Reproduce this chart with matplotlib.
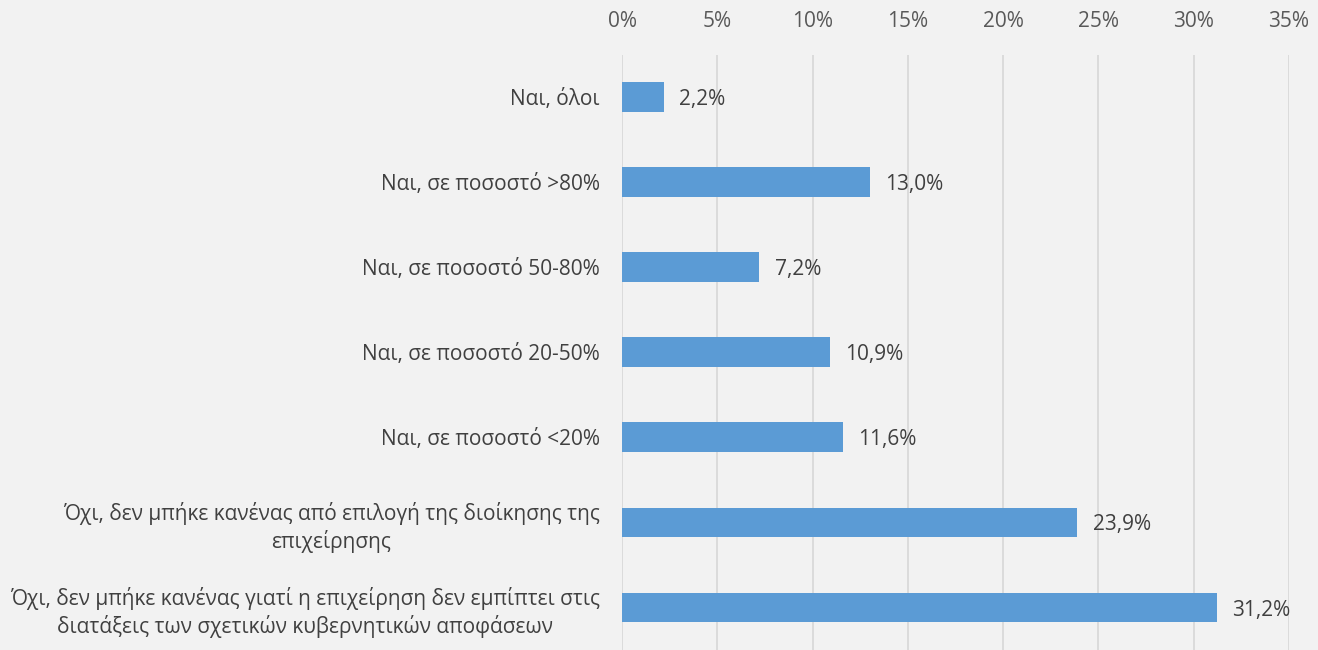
import matplotlib.pyplot as plt
from matplotlib.ticker import FuncFormatter

categories = [
    'Ναι, όλοι',
    'Ναι, σε ποσοστό >80%',
    'Ναι, σε ποσοστό 50-80%',
    'Ναι, σε ποσοστό 20-50%',
    'Ναι, σε ποσοστό <20%',
    'Όχι, δεν μπήκε κανένας από επιλογή της διοίκησης της\nεπιχείρησης',
    'Όχι, δεν μπήκε κανένας γιατί η επιχείρηση δεν εμπίπτει στις\nδιατάξεις των σχετικών κυβερνητικών αποφάσεων',
]
values = [2.2, 13.0, 7.2, 10.9, 11.6, 23.9, 31.2]
xticks = [0, 5, 10, 15, 20, 25, 30, 35]

plt.rcParams['font.family'] = ['Open Sans', 'DejaVu Sans']

bg = '#f2f2f2'
fig = plt.figure(figsize=(13.18, 6.5), dpi=100, facecolor=bg)
ax = fig.add_axes([0.472, 0.0, 0.506, 0.916], facecolor=bg)

pos = list(range(len(categories)))
ax.barh(pos, values, height=0.35, color='#5b9bd5', zorder=3)
for p, v in zip(pos, values):
    ax.text(v + 0.8, p + 0.03, f'{v:.1f}%'.replace('.', ','), va='center', ha='left',
            fontsize=15, color='#404040')

ax.set_ylim(len(categories) - 0.5, -0.5)
ax.set_xlim(0, 35)
ax.set_yticks(pos)
ax.set_yticklabels(categories, fontsize=15, color='#404040',
                   multialignment='center', linespacing=1.3)
ax.set_xticks(xticks)
ax.xaxis.set_major_formatter(FuncFormatter(lambda x, _: f'{x:.0f}%'))
ax.xaxis.tick_top()
ax.tick_params(axis='x', length=0, labelsize=15, labelcolor='#595959', pad=16)
ax.tick_params(axis='y', length=0, pad=16)
ax.grid(axis='x', color='#d9d9d9', linewidth=1.3, zorder=0)
for s in ax.spines.values():
    s.set_visible(False)

fig.savefig('out.png', facecolor=bg)
